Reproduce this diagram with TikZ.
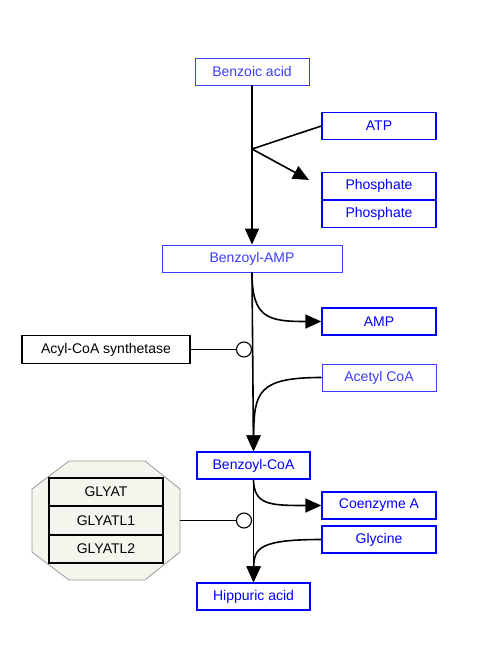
\documentclass[tikz,border=0pt]{standalone}
\usepackage{fontspec}
\setmainfont{Liberation Sans}
\usepackage{xcolor}
\usepackage{tikz}
\usetikzlibrary{positioning, arrows.meta}

\definecolor{metblue}{HTML}{0000FF}
\definecolor{metlight}{HTML}{3C3CFF}
\definecolor{grpfill}{HTML}{F5F5EE}

\tikzset{
  met/.style={draw=metblue, line width=1.4pt, text=metblue, rectangle, minimum width=114pt, minimum height=27pt, inner sep=0pt},
  metl/.style={draw=metlight, line width=0.9pt, text=metlight, rectangle, minimum width=114pt, minimum height=27pt, inner sep=0pt},
  enz/.style={draw, line width=1.5pt, rectangle, minimum width=114pt, minimum height=28pt, inner sep=0pt},
  conv/.style={line width=1.6pt, -{Triangle[length=16pt, width=14pt]}},
  link/.style={line width=1.6pt},
  cat/.style={draw, circle, line width=1.1pt, fill=white, minimum size=15pt, inner sep=0pt}
}

\begin{document}
\begin{tikzpicture}[x=1pt, y=-1pt, font=\fontsize{14}{16}\selectfont]
  \useasboundingbox (0,0) rectangle (480,654);

  % Benzoic acid -> Benzoyl-AMP (top)
  \node (benz) [metl] at (252,71.5) {Benzoic acid};
  \node (atp) [met] at (379,126) {ATP};
  \node (pho1) [met] at (379,186) {Phosphate};
  \node (pho2) [met] at (379,214) {Phosphate};
  \node (bamp) [metl, minimum width=180pt] at (252,258.5) {Benzoyl-AMP};
  \coordinate (br) at (252,149);
  \coordinate (phtip) at (309,180);
  \draw[conv] (benz) -- (bamp);
  \draw[link] (atp.west) -- (br);
  \draw[conv] (br) -- (phtip);

  % Benzoyl-AMP -> Benzoyl-CoA (middle)
  \node (amp) [met] at (379,321.5) {AMP};
  \node (acs) [enz, minimum width=168pt, line width=1.3pt] at (106,349.5) {Acyl-CoA synthetase};
  \node (acet) [metl] at (379,377.5) {Acetyl CoA};
  \node (bcoa) [met, minimum width=113pt] at (253.5,465.5) {Benzoyl-CoA};
  \draw[conv] (bamp.south) -- (bcoa.north);
  \draw[conv] (bamp.south) .. controls (252,318) and (268,321.5) .. (amp.west);
  \draw[conv] (acet.west) .. controls (258,377.5) and (254,392) .. (bcoa.north);
  \node (c1) [cat] at (244,349.5) {};
  \draw[link] (acs.east) -- (c1);

  % Benzoyl-CoA -> Hippuric acid (bottom)
  \node (coa) [met] at (379,505.5) {Coenzyme A};
  \node (gly) [met] at (379,539.5) {Glycine};
  \node (hip) [met, minimum width=113pt] at (253.5,596.5) {Hippuric acid};
  \draw[conv] (bcoa.south) -- (hip.north);
  \draw[conv] (bcoa.south) .. controls (254,505) and (270,505.5) .. (coa.west);
  \draw[conv] (gly.west) .. controls (260,539.5) and (254,548) .. (hip.north);

  % GLYAT group (left)
  \draw[draw=black!40, fill=grpfill, line width=0.8pt]
    (69,461) -- (145,461) -- (180,489) -- (180,552) -- (145,580)
    -- (69,580) -- (32,552) -- (32,489) -- cycle;
  \node (gly1) [enz] at (106,492) {GLYAT};
  \node (gly2) [enz] at (106,520.5) {GLYATL1};
  \node (gly3) [enz] at (106,549) {GLYATL2};
  \coordinate (grp) at (180,520.5);
  \node (c2) [cat] at (244,520.5) {};
  \draw[link] (grp) -- (c2);
\end{tikzpicture}
\end{document}
